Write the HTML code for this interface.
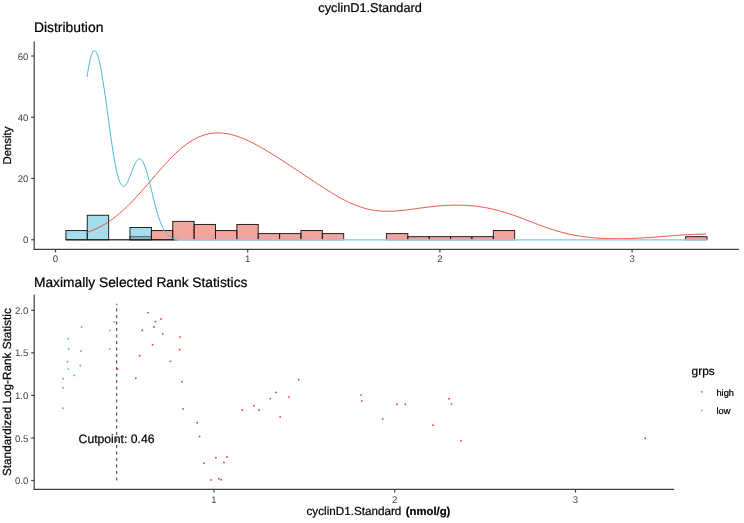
<!DOCTYPE html>
<html><head><meta charset="utf-8"><title>cyclinD1.Standard</title>
<style>html,body{margin:0;padding:0;background:#fff}svg{display:block;will-change:transform}text{font-family:"Liberation Sans",Arial,sans-serif;text-rendering:geometricPrecision}text.k{stroke:#000;stroke-width:.22px}</style></head><body>
<svg width="744" height="523" viewBox="0 0 744 523">
<rect width="744" height="523" fill="#fff"/>
<text x="370.1" y="12.4" font-size="12.75" text-anchor="middle" fill="#000" class="k">cyclinD1.Standard</text>
<text x="33.9" y="32.1" font-size="13.9" fill="#000" class="k">Distribution</text>
<g stroke="#1a1a1a" stroke-width="0.95">
<line x1="65.9" y1="239.75" x2="178" y2="239.75" stroke="#444" stroke-width="1.3"/>
<rect x="130.01" y="236.69" width="21.37" height="3.06" fill="#E64B35" fill-opacity="0.5"/>
<rect x="151.38" y="230.56" width="21.37" height="9.19" fill="#E64B35" fill-opacity="0.5"/>
<rect x="172.75" y="221.38" width="21.37" height="18.38" fill="#E64B35" fill-opacity="0.5"/>
<rect x="194.12" y="224.44" width="21.37" height="15.31" fill="#E64B35" fill-opacity="0.5"/>
<rect x="215.49" y="230.56" width="21.37" height="9.19" fill="#E64B35" fill-opacity="0.5"/>
<rect x="236.86" y="224.44" width="21.37" height="15.31" fill="#E64B35" fill-opacity="0.5"/>
<rect x="258.23" y="233.62" width="21.37" height="6.12" fill="#E64B35" fill-opacity="0.5"/>
<rect x="279.60" y="233.62" width="21.37" height="6.12" fill="#E64B35" fill-opacity="0.5"/>
<rect x="300.97" y="230.56" width="21.37" height="9.19" fill="#E64B35" fill-opacity="0.5"/>
<rect x="322.34" y="233.62" width="21.37" height="6.12" fill="#E64B35" fill-opacity="0.5"/>
<rect x="386.45" y="233.62" width="21.37" height="6.12" fill="#E64B35" fill-opacity="0.5"/>
<rect x="407.82" y="236.69" width="21.37" height="3.06" fill="#E64B35" fill-opacity="0.5"/>
<rect x="429.19" y="236.69" width="21.37" height="3.06" fill="#E64B35" fill-opacity="0.5"/>
<rect x="450.56" y="236.69" width="21.37" height="3.06" fill="#E64B35" fill-opacity="0.5"/>
<rect x="471.93" y="236.69" width="21.37" height="3.06" fill="#E64B35" fill-opacity="0.5"/>
<rect x="493.30" y="230.56" width="21.37" height="9.19" fill="#E64B35" fill-opacity="0.5"/>
<rect x="685.63" y="236.69" width="21.37" height="3.06" fill="#E64B35" fill-opacity="0.5"/>
<rect x="65.90" y="230.56" width="21.37" height="9.19" fill="#4DBBD5" fill-opacity="0.5"/>
<rect x="87.27" y="215.25" width="21.37" height="24.50" fill="#4DBBD5" fill-opacity="0.5"/>
<rect x="130.01" y="227.50" width="21.37" height="12.25" fill="#4DBBD5" fill-opacity="0.5"/>
</g>
<path d="M87.0,232.5 L88.6,231.9 L90.1,231.4 L91.7,230.7 L93.2,230.1 L94.8,229.4 L96.3,228.7 L97.9,228.0 L99.4,227.2 L101.0,226.4 L102.5,225.5 L104.1,224.6 L105.7,223.7 L107.2,222.7 L108.8,221.7 L110.3,220.6 L111.9,219.5 L113.4,218.4 L115.0,217.2 L116.5,215.9 L118.1,214.7 L119.6,213.4 L121.2,212.0 L122.7,210.6 L124.3,209.2 L125.8,207.8 L127.4,206.3 L128.9,204.7 L130.5,203.2 L132.0,201.6 L133.6,200.0 L135.1,198.3 L136.7,196.6 L138.2,194.9 L139.8,193.2 L141.3,191.5 L142.9,189.7 L144.4,187.9 L146.0,186.1 L147.6,184.3 L149.1,182.5 L150.7,180.7 L152.2,178.9 L153.8,177.1 L155.3,175.3 L156.9,173.5 L158.4,171.7 L160.0,170.0 L161.5,168.2 L163.1,166.5 L164.6,164.7 L166.2,163.0 L167.7,161.4 L169.3,159.7 L170.8,158.1 L172.4,156.6 L173.9,155.0 L175.5,153.5 L177.0,152.1 L178.6,150.7 L180.1,149.3 L181.7,148.0 L183.2,146.7 L184.8,145.5 L186.3,144.4 L187.9,143.2 L189.5,142.2 L191.0,141.2 L192.6,140.2 L194.1,139.4 L195.7,138.5 L197.2,137.8 L198.8,137.0 L200.3,136.4 L201.9,135.8 L203.4,135.2 L205.0,134.8 L206.5,134.3 L208.1,134.0 L209.6,133.6 L211.2,133.4 L212.7,133.2 L214.3,133.0 L215.8,132.9 L217.4,132.9 L218.9,132.9 L220.5,132.9 L222.0,133.0 L223.6,133.2 L225.1,133.4 L226.7,133.6 L228.2,133.9 L229.8,134.2 L231.4,134.6 L232.9,135.0 L234.5,135.4 L236.0,135.9 L237.6,136.4 L239.1,137.0 L240.7,137.5 L242.2,138.1 L243.8,138.8 L245.3,139.4 L246.9,140.1 L248.4,140.9 L250.0,141.6 L251.5,142.4 L253.1,143.1 L254.6,143.9 L256.2,144.8 L257.7,145.6 L259.3,146.5 L260.8,147.3 L262.4,148.2 L263.9,149.1 L265.5,150.0 L267.0,151.0 L268.6,151.9 L270.1,152.8 L271.7,153.8 L273.2,154.8 L274.8,155.7 L276.4,156.7 L277.9,157.7 L279.5,158.7 L281.0,159.7 L282.6,160.7 L284.1,161.7 L285.7,162.7 L287.2,163.7 L288.8,164.7 L290.3,165.7 L291.9,166.8 L293.4,167.8 L295.0,168.8 L296.5,169.8 L298.1,170.9 L299.6,171.9 L301.2,172.9 L302.7,174.0 L304.3,175.0 L305.8,176.0 L307.4,177.1 L308.9,178.1 L310.5,179.2 L312.0,180.2 L313.6,181.2 L315.1,182.3 L316.7,183.3 L318.3,184.3 L319.8,185.3 L321.4,186.3 L322.9,187.3 L324.5,188.3 L326.0,189.3 L327.6,190.3 L329.1,191.3 L330.7,192.2 L332.2,193.2 L333.8,194.1 L335.3,195.0 L336.9,196.0 L338.4,196.8 L340.0,197.7 L341.5,198.6 L343.1,199.4 L344.6,200.2 L346.2,201.0 L347.7,201.7 L349.3,202.5 L350.8,203.2 L352.4,203.9 L353.9,204.5 L355.5,205.2 L357.0,205.8 L358.6,206.3 L360.2,206.9 L361.7,207.4 L363.3,207.8 L364.8,208.3 L366.4,208.7 L367.9,209.1 L369.5,209.4 L371.0,209.7 L372.6,210.0 L374.1,210.3 L375.7,210.5 L377.2,210.7 L378.8,210.9 L380.3,211.0 L381.9,211.1 L383.4,211.2 L385.0,211.2 L386.5,211.3 L388.1,211.3 L389.6,211.2 L391.2,211.2 L392.7,211.1 L394.3,211.1 L395.8,211.0 L397.4,210.8 L398.9,210.7 L400.5,210.6 L402.1,210.4 L403.6,210.2 L405.2,210.1 L406.7,209.9 L408.3,209.7 L409.8,209.5 L411.4,209.3 L412.9,209.1 L414.5,208.9 L416.0,208.6 L417.6,208.4 L419.1,208.2 L420.7,208.0 L422.2,207.8 L423.8,207.6 L425.3,207.4 L426.9,207.2 L428.4,207.0 L430.0,206.9 L431.5,206.7 L433.1,206.5 L434.6,206.4 L436.2,206.2 L437.7,206.1 L439.3,205.9 L440.8,205.8 L442.4,205.7 L444.0,205.6 L445.5,205.5 L447.1,205.4 L448.6,205.4 L450.2,205.3 L451.7,205.3 L453.3,205.2 L454.8,205.2 L456.4,205.2 L457.9,205.2 L459.5,205.2 L461.0,205.2 L462.6,205.3 L464.1,205.3 L465.7,205.4 L467.2,205.5 L468.8,205.6 L470.3,205.7 L471.9,205.8 L473.4,206.0 L475.0,206.1 L476.5,206.3 L478.1,206.5 L479.6,206.7 L481.2,206.9 L482.7,207.2 L484.3,207.4 L485.9,207.7 L487.4,208.0 L489.0,208.3 L490.5,208.6 L492.1,209.0 L493.6,209.3 L495.2,209.7 L496.7,210.1 L498.3,210.5 L499.8,210.9 L501.4,211.4 L502.9,211.8 L504.5,212.3 L506.0,212.8 L507.6,213.2 L509.1,213.8 L510.7,214.3 L512.2,214.8 L513.8,215.3 L515.3,215.9 L516.9,216.5 L518.4,217.0 L520.0,217.6 L521.5,218.2 L523.1,218.8 L524.6,219.4 L526.2,220.0 L527.8,220.6 L529.3,221.2 L530.9,221.8 L532.4,222.4 L534.0,223.0 L535.5,223.6 L537.1,224.1 L538.6,224.7 L540.2,225.3 L541.7,225.9 L543.3,226.4 L544.8,227.0 L546.4,227.5 L547.9,228.1 L549.5,228.6 L551.0,229.1 L552.6,229.6 L554.1,230.1 L555.7,230.6 L557.2,231.0 L558.8,231.5 L560.3,231.9 L561.9,232.3 L563.4,232.7 L565.0,233.1 L566.5,233.5 L568.1,233.9 L569.7,234.2 L571.2,234.6 L572.8,234.9 L574.3,235.2 L575.9,235.5 L577.4,235.7 L579.0,236.0 L580.5,236.2 L582.1,236.5 L583.6,236.7 L585.2,236.9 L586.7,237.1 L588.3,237.3 L589.8,237.4 L591.4,237.6 L592.9,237.7 L594.5,237.9 L596.0,238.0 L597.6,238.1 L599.1,238.2 L600.7,238.3 L602.2,238.4 L603.8,238.4 L605.3,238.5 L606.9,238.6 L608.4,238.6 L610.0,238.6 L611.6,238.7 L613.1,238.7 L614.7,238.7 L616.2,238.7 L617.8,238.7 L619.3,238.7 L620.9,238.7 L622.4,238.7 L624.0,238.7 L625.5,238.6 L627.1,238.6 L628.6,238.5 L630.2,238.5 L631.7,238.4 L633.3,238.4 L634.8,238.3 L636.4,238.2 L637.9,238.2 L639.5,238.1 L641.0,238.0 L642.6,237.9 L644.1,237.8 L645.7,237.7 L647.2,237.6 L648.8,237.5 L650.3,237.4 L651.9,237.3 L653.5,237.2 L655.0,237.1 L656.6,237.0 L658.1,236.8 L659.7,236.7 L661.2,236.6 L662.8,236.5 L664.3,236.3 L665.9,236.2 L667.4,236.1 L669.0,236.0 L670.5,235.8 L672.1,235.7 L673.6,235.6 L675.2,235.5 L676.7,235.4 L678.3,235.3 L679.8,235.1 L681.4,235.0 L682.9,234.9 L684.5,234.8 L686.0,234.7 L687.6,234.7 L689.1,234.6 L690.7,234.5 L692.2,234.4 L693.8,234.4 L695.4,234.3 L696.9,234.3 L698.5,234.2 L700.0,234.2 L701.6,234.2 L703.1,234.1 L704.7,234.1 L706.2,234.1" fill="none" stroke="#E64B35" stroke-width="0.95"/>
<path d="M87.0,76.9 L88.6,67.3 L90.1,59.7 L91.7,54.3 L93.2,51.2 L94.8,50.5 L96.3,52.2 L97.9,56.0 L99.4,61.7 L101.0,69.3 L102.5,78.2 L104.1,88.3 L105.7,99.1 L107.2,110.5 L108.8,122.0 L110.3,133.2 L111.9,144.0 L113.4,154.1 L115.0,163.0 L116.5,170.8 L118.1,177.0 L119.6,181.8 L121.2,184.9 L122.7,186.3 L124.3,186.3 L125.8,184.9 L127.4,182.4 L128.9,179.0 L130.5,175.1 L132.0,171.0 L133.6,167.0 L135.1,163.5 L136.7,160.9 L138.2,159.2 L139.8,158.8 L141.3,159.6 L142.9,161.7 L144.4,165.0 L146.0,169.4 L147.6,174.6 L149.1,180.5 L150.7,186.8 L152.2,193.3 L153.8,199.6 L155.3,205.7 L156.9,211.4 L158.4,216.5 L160.0,221.0 L161.5,225.0 L163.1,228.3 L164.6,231.0 L166.2,233.2 L167.7,234.9 L169.3,236.2 L170.8,237.3 L172.4,238.0 L173.9,238.6 L175.5,238.9 L177.0,239.2 L178.6,239.4 L180.1,239.5 L181.7,239.6 L183.2,239.7 L184.8,239.7 L186.3,239.7 L187.9,239.7 L189.5,239.7 L191.0,239.7 L192.6,239.7 L194.1,239.7 L195.7,239.7 L197.2,239.7 L198.8,239.7 L200.3,239.7 L201.9,239.7 L203.4,239.7 L205.0,239.7 L206.5,239.7 L208.1,239.7 L209.6,239.7 L211.2,239.7 L212.7,239.7 L214.3,239.7 L215.8,239.7 L217.4,239.7 L218.9,239.7 L220.5,239.7 L222.0,239.7 L223.6,239.7 L225.1,239.7 L226.7,239.7 L228.2,239.7 L229.8,239.7 L231.4,239.7 L232.9,239.7 L234.5,239.7 L236.0,239.7 L237.6,239.7 L239.1,239.8 L240.7,239.8 L242.2,239.8 L243.8,239.8 L245.3,239.8 L246.9,239.8 L248.4,239.8 L250.0,239.8 L251.5,239.8 L253.1,239.8 L254.6,239.8 L256.2,239.8 L257.7,239.8 L259.3,239.8 L260.8,239.8 L262.4,239.8 L263.9,239.8 L265.5,239.8 L267.0,239.8 L268.6,239.8 L270.1,239.8 L271.7,239.8 L273.2,239.8 L274.8,239.8 L276.4,239.8 L277.9,239.8 L279.5,239.8 L281.0,239.8 L282.6,239.8 L284.1,239.8 L285.7,239.8 L287.2,239.8 L288.8,239.8 L290.3,239.8 L291.9,239.8 L293.4,239.8 L295.0,239.8 L296.5,239.8 L298.1,239.8 L299.6,239.8 L301.2,239.8 L302.7,239.8 L304.3,239.8 L305.8,239.8 L307.4,239.8 L308.9,239.8 L310.5,239.8 L312.0,239.8 L313.6,239.8 L315.1,239.8 L316.7,239.8 L318.3,239.8 L319.8,239.8 L321.4,239.8 L322.9,239.8 L324.5,239.8 L326.0,239.8 L327.6,239.8 L329.1,239.8 L330.7,239.8 L332.2,239.8 L333.8,239.8 L335.3,239.8 L336.9,239.8 L338.4,239.8 L340.0,239.8 L341.5,239.8 L343.1,239.8 L344.6,239.8 L346.2,239.8 L347.7,239.8 L349.3,239.8 L350.8,239.8 L352.4,239.8 L353.9,239.8 L355.5,239.8 L357.0,239.8 L358.6,239.8 L360.2,239.8 L361.7,239.8 L363.3,239.8 L364.8,239.8 L366.4,239.8 L367.9,239.8 L369.5,239.8 L371.0,239.8 L372.6,239.8 L374.1,239.8 L375.7,239.8 L377.2,239.8 L378.8,239.8 L380.3,239.8 L381.9,239.8 L383.4,239.8 L385.0,239.8 L386.5,239.8 L388.1,239.8 L389.6,239.8 L391.2,239.8 L392.7,239.8 L394.3,239.8 L395.8,239.8 L397.4,239.8 L398.9,239.8 L400.5,239.8 L402.1,239.8 L403.6,239.8 L405.2,239.8 L406.7,239.8 L408.3,239.8 L409.8,239.8 L411.4,239.8 L412.9,239.8 L414.5,239.8 L416.0,239.8 L417.6,239.8 L419.1,239.8 L420.7,239.8 L422.2,239.8 L423.8,239.8 L425.3,239.8 L426.9,239.8 L428.4,239.8 L430.0,239.8 L431.5,239.8 L433.1,239.8 L434.6,239.8 L436.2,239.8 L437.7,239.8 L439.3,239.8 L440.8,239.8 L442.4,239.8 L444.0,239.8 L445.5,239.8 L447.1,239.8 L448.6,239.8 L450.2,239.8 L451.7,239.8 L453.3,239.8 L454.8,239.8 L456.4,239.8 L457.9,239.8 L459.5,239.8 L461.0,239.8 L462.6,239.8 L464.1,239.8 L465.7,239.8 L467.2,239.8 L468.8,239.8 L470.3,239.8 L471.9,239.8 L473.4,239.8 L475.0,239.8 L476.5,239.8 L478.1,239.8 L479.6,239.8 L481.2,239.8 L482.7,239.8 L484.3,239.8 L485.9,239.8 L487.4,239.8 L489.0,239.8 L490.5,239.8 L492.1,239.8 L493.6,239.8 L495.2,239.8 L496.7,239.8 L498.3,239.8 L499.8,239.8 L501.4,239.8 L502.9,239.8 L504.5,239.8 L506.0,239.8 L507.6,239.8 L509.1,239.8 L510.7,239.8 L512.2,239.8 L513.8,239.8 L515.3,239.8 L516.9,239.8 L518.4,239.8 L520.0,239.8 L521.5,239.8 L523.1,239.8 L524.6,239.8 L526.2,239.8 L527.8,239.8 L529.3,239.8 L530.9,239.8 L532.4,239.8 L534.0,239.8 L535.5,239.8 L537.1,239.8 L538.6,239.8 L540.2,239.8 L541.7,239.8 L543.3,239.8 L544.8,239.8 L546.4,239.8 L547.9,239.8 L549.5,239.8 L551.0,239.8 L552.6,239.8 L554.1,239.8 L555.7,239.8 L557.2,239.8 L558.8,239.8 L560.3,239.8 L561.9,239.8 L563.4,239.8 L565.0,239.8 L566.5,239.8 L568.1,239.8 L569.7,239.8 L571.2,239.8 L572.8,239.8 L574.3,239.8 L575.9,239.8 L577.4,239.8 L579.0,239.8 L580.5,239.8 L582.1,239.8 L583.6,239.8 L585.2,239.8 L586.7,239.8 L588.3,239.8 L589.8,239.8 L591.4,239.8 L592.9,239.8 L594.5,239.8 L596.0,239.8 L597.6,239.8 L599.1,239.8 L600.7,239.8 L602.2,239.8 L603.8,239.8 L605.3,239.8 L606.9,239.8 L608.4,239.8 L610.0,239.8 L611.6,239.8 L613.1,239.8 L614.7,239.8 L616.2,239.8 L617.8,239.8 L619.3,239.8 L620.9,239.8 L622.4,239.8 L624.0,239.8 L625.5,239.8 L627.1,239.8 L628.6,239.8 L630.2,239.8 L631.7,239.8 L633.3,239.8 L634.8,239.8 L636.4,239.8 L637.9,239.8 L639.5,239.8 L641.0,239.8 L642.6,239.8 L644.1,239.8 L645.7,239.8 L647.2,239.8 L648.8,239.8 L650.3,239.8 L651.9,239.8 L653.5,239.8 L655.0,239.8 L656.6,239.8 L658.1,239.8 L659.7,239.8 L661.2,239.8 L662.8,239.8 L664.3,239.8 L665.9,239.8 L667.4,239.8 L669.0,239.8 L670.5,239.8 L672.1,239.8 L673.6,239.8 L675.2,239.8 L676.7,239.8 L678.3,239.8 L679.8,239.8 L681.4,239.8 L682.9,239.8 L684.5,239.8 L686.0,239.8 L687.6,239.8 L689.1,239.8 L690.7,239.8 L692.2,239.8 L693.8,239.8 L695.4,239.8 L696.9,239.8 L698.5,239.8 L700.0,239.8 L701.6,239.8 L703.1,239.8 L704.7,239.8 L706.2,239.8" fill="none" stroke="#4DBBD5" stroke-width="1.0"/>
<path d="M174,239.85 H707" stroke="#A0D9EA" stroke-width="1.4" fill="none"/>
<g stroke="#404040" stroke-width="1.2" fill="none">
<path d="M34.2,41.4 V249.9"/>
<path d="M33.6,249.3 H739"/>
<path d="M31.2,239.75 H34.2"/>
<path d="M31.2,178.50 H34.2"/>
<path d="M31.2,117.25 H34.2"/>
<path d="M31.2,56.00 H34.2"/>
<path d="M55.50,249.3 V252.4"/>
<path d="M247.70,249.3 V252.4"/>
<path d="M439.90,249.3 V252.4"/>
<path d="M632.10,249.3 V252.4"/>
</g>
<g font-size="9.6" fill="#404040">
<text x="28.3" y="243.35" text-anchor="end">0</text>
<text x="28.3" y="182.10" text-anchor="end">20</text>
<text x="28.3" y="120.85" text-anchor="end">40</text>
<text x="28.3" y="59.60" text-anchor="end">60</text>
<text x="55.50" y="262.2" text-anchor="middle">0</text>
<text x="247.70" y="262.2" text-anchor="middle">1</text>
<text x="439.90" y="262.2" text-anchor="middle">2</text>
<text x="632.10" y="262.2" text-anchor="middle">3</text>
</g>
<text transform="translate(10.5,145.6) rotate(-90)" font-size="11.4" text-anchor="middle" fill="#000" class="k">Density</text>
<text x="34.0" y="287" font-size="13.77" fill="#000" class="k">Maximally Selected Rank Statistics</text>
<g stroke="#404040" stroke-width="1.2" fill="none">
<path d="M34.2,294.5 V489.8"/>
<path d="M33.6,489.4 H674.2"/>
<path d="M31.2,480.50 H34.2"/>
<path d="M31.2,437.95 H34.2"/>
<path d="M31.2,395.40 H34.2"/>
<path d="M31.2,352.85 H34.2"/>
<path d="M31.2,310.30 H34.2"/>
<path d="M214.00,489.4 V492.6"/>
<path d="M394.75,489.4 V492.6"/>
<path d="M575.50,489.4 V492.6"/>
</g>
<g font-size="9.6" fill="#404040">
<text x="28.3" y="484.10" text-anchor="end">0.0</text>
<text x="28.3" y="441.55" text-anchor="end">0.5</text>
<text x="28.3" y="399.00" text-anchor="end">1.0</text>
<text x="28.3" y="356.45" text-anchor="end">1.5</text>
<text x="28.3" y="313.90" text-anchor="end">2.0</text>
<text x="214.00" y="502.8" text-anchor="middle">1</text>
<text x="394.75" y="502.8" text-anchor="middle">2</text>
<text x="575.50" y="502.8" text-anchor="middle">3</text>
</g>
<text transform="translate(10.6,392.1) rotate(-90)" font-size="11.75" text-anchor="middle" fill="#000" class="k">Standardized Log-Rank Statistic</text>
<text x="306.5" y="515.1" font-size="11.7" fill="#000" class="k">cyclinD1.Standard <tspan dx="1.2" font-weight="bold" font-size="11.3">(nmol/g)</tspan></text>
<path d="M116.7,480.5 V304.4" stroke="#333" stroke-width="1" stroke-dasharray="3,3.5" fill="none"/>
<g fill="#E64B35">
<circle cx="117.7" cy="368.9" r="0.95"/>
<circle cx="148.1" cy="312.6" r="0.95"/>
<circle cx="161.0" cy="319.0" r="0.95"/>
<circle cx="155.4" cy="321.8" r="0.95"/>
<circle cx="153.9" cy="327.0" r="0.95"/>
<circle cx="142.3" cy="330.2" r="0.95"/>
<circle cx="162.7" cy="333.9" r="0.95"/>
<circle cx="180.1" cy="337.1" r="0.95"/>
<circle cx="152.6" cy="344.8" r="0.95"/>
<circle cx="179.7" cy="349.8" r="0.95"/>
<circle cx="139.7" cy="355.8" r="0.95"/>
<circle cx="170.4" cy="361.4" r="0.95"/>
<circle cx="135.8" cy="378.2" r="0.95"/>
<circle cx="182.0" cy="381.8" r="0.95"/>
<circle cx="183.1" cy="408.9" r="0.95"/>
<circle cx="298.7" cy="379.7" r="0.95"/>
<circle cx="275.9" cy="392.4" r="0.95"/>
<circle cx="270.3" cy="398.6" r="0.95"/>
<circle cx="289.0" cy="397.1" r="0.95"/>
<circle cx="254.0" cy="405.7" r="0.95"/>
<circle cx="242.2" cy="410.0" r="0.95"/>
<circle cx="259.1" cy="410.0" r="0.95"/>
<circle cx="280.2" cy="416.7" r="0.95"/>
<circle cx="197.2" cy="422.7" r="0.95"/>
<circle cx="199.6" cy="436.5" r="0.95"/>
<circle cx="215.9" cy="457.7" r="0.95"/>
<circle cx="226.9" cy="456.9" r="0.95"/>
<circle cx="203.9" cy="463.3" r="0.95"/>
<circle cx="223.9" cy="462.5" r="0.95"/>
<circle cx="211.0" cy="479.9" r="0.95"/>
<circle cx="218.9" cy="478.8" r="0.95"/>
<circle cx="221.3" cy="479.7" r="0.95"/>
<circle cx="361.0" cy="395.1" r="0.95"/>
<circle cx="361.8" cy="400.9" r="0.95"/>
<circle cx="382.7" cy="418.9" r="0.95"/>
<circle cx="397.1" cy="404.3" r="0.95"/>
<circle cx="405.3" cy="404.3" r="0.95"/>
<circle cx="433.0" cy="425.2" r="0.95"/>
<circle cx="449.1" cy="398.7" r="0.95"/>
<circle cx="451.5" cy="404.1" r="0.95"/>
<circle cx="461.0" cy="440.9" r="0.95"/>
<circle cx="645.2" cy="438.3" r="0.95"/>
</g>
<g fill="#4DBBD5">
<circle cx="116.9" cy="304.4" r="0.95"/>
<circle cx="114.3" cy="322.0" r="0.95"/>
<circle cx="110.0" cy="330.6" r="0.95"/>
<circle cx="81.6" cy="327.0" r="0.95"/>
<circle cx="68.3" cy="338.8" r="0.95"/>
<circle cx="68.7" cy="348.9" r="0.95"/>
<circle cx="80.8" cy="351.3" r="0.95"/>
<circle cx="109.6" cy="348.9" r="0.95"/>
<circle cx="67.4" cy="361.8" r="0.95"/>
<circle cx="80.3" cy="365.5" r="0.95"/>
<circle cx="68.3" cy="369.1" r="0.95"/>
<circle cx="74.3" cy="375.4" r="0.95"/>
<circle cx="63.3" cy="378.8" r="0.95"/>
<circle cx="63.3" cy="387.8" r="0.95"/>
<circle cx="62.9" cy="408.3" r="0.95"/>
</g>
<text x="78.6" y="442.6" font-size="12.2" fill="#000" class="k">Cutpoint: 0.46</text>
<text x="691.6" y="375.1" font-size="11.9" fill="#000" class="k">grps</text>
<circle cx="701.7" cy="391.8" r="0.85" fill="#E64B35"/>
<circle cx="701.7" cy="410.5" r="0.85" fill="#4DBBD5"/>
<text x="716.4" y="395.5" font-size="9.3" fill="#000" class="k">high</text>
<text x="716.4" y="414.2" font-size="9.3" fill="#000" class="k">low</text>
</svg></body></html>
